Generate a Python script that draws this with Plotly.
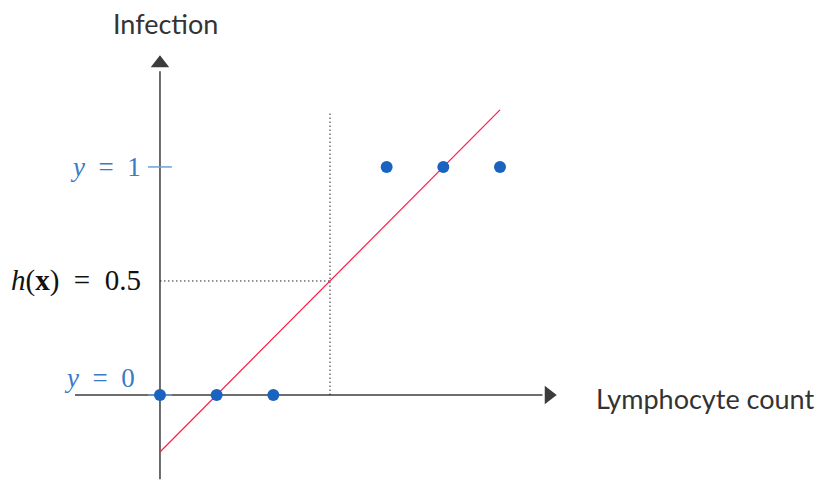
import plotly.graph_objects as go

# data
x_neg = [0, 1, 2]
y_neg = [0, 0, 0]
x_pos = [4, 5, 6]
y_pos = [1, 1, 1]
fit_x = [0, 6]
fit_y = [-0.25, 1.25]
threshold_x = 3
threshold_h = 0.5

axis_col = "#3c3c3c"
blue = "#1a63c0"
label_blue = "#3a7bc8"
math_font = "Liberation Serif"
sans_font = "Lato"
sp = "\u2002"  # wider space round "="

fig = go.Figure()

# axes with arrows
fig.add_trace(go.Scatter(x=[-1.5, 6.75], y=[0, 0], mode="lines",
                         line=dict(color=axis_col, width=1.5), hoverinfo="skip"))
fig.add_trace(go.Scatter(x=[0, 0], y=[-0.37, 1.42], mode="lines",
                         line=dict(color=axis_col, width=1.5), hoverinfo="skip"))
fig.add_trace(go.Scatter(x=[6.86], y=[0], mode="markers",
                         marker=dict(symbol="triangle-right", size=16, color=axis_col), hoverinfo="skip"))
fig.add_trace(go.Scatter(x=[0], y=[1.455], mode="markers",
                         marker=dict(symbol="triangle-up", size=16, color=axis_col), hoverinfo="skip"))

# y=1 / y=0 ticks
fig.add_trace(go.Scatter(x=[-0.21, 0.21], y=[1, 1], mode="lines",
                         line=dict(color="#6b9fd8", width=1.5), hoverinfo="skip"))
fig.add_trace(go.Scatter(x=[-0.21, 0.21], y=[0, 0], mode="lines",
                         line=dict(color="#6b9fd8", width=1.5), hoverinfo="skip"))

# dotted guides
fig.add_trace(go.Scatter(x=[threshold_x, threshold_x], y=[0, 1.24], mode="lines",
                         line=dict(color="#222222", width=1, dash="1.5px,2.5px"), hoverinfo="skip"))
fig.add_trace(go.Scatter(x=[0, threshold_x], y=[threshold_h, threshold_h], mode="lines",
                         line=dict(color="#222222", width=1, dash="1.5px,2.5px"), hoverinfo="skip"))

# fitted line
fig.add_trace(go.Scatter(x=fit_x, y=fit_y, mode="lines",
                         line=dict(color="#ff1a4a", width=1.2), hoverinfo="skip"))

# points
fig.add_trace(go.Scatter(x=x_neg + x_pos, y=y_neg + y_pos, mode="markers",
                         marker=dict(size=12, color=blue), hoverinfo="skip"))

fig.add_annotation(x=0.1, y=1.628, text="Infection", showarrow=False,
                   font=dict(family=sans_font, size=27, color="#333333"))
fig.add_annotation(x=7.66, y=-0.015, text="Lymphocyte count", showarrow=False, xanchor="left",
                   font=dict(family=sans_font, size=27, color="#333333"))
fig.add_annotation(x=-0.3, y=1, text=f"<i>y</i>{sp}={sp}1", showarrow=False, xanchor="right",
                   font=dict(family=math_font, size=27, color=label_blue))
fig.add_annotation(x=-0.4, y=0.075, text=f"<i>y</i>{sp}={sp}0", showarrow=False, xanchor="right",
                   font=dict(family=math_font, size=27, color=label_blue))
fig.add_annotation(x=-0.3, y=threshold_h, text=f"<i>h</i>(<b>x</b>){sp}={sp}0.5", showarrow=False,
                   xanchor="right", font=dict(family=math_font, size=29, color="#111111"))

# page body has an 8px margin, so the figure is drawn 8px in and 8px down
fig.update_layout(
    width=815, height=472, margin=dict(l=0, r=0, t=0, b=0),
    plot_bgcolor="white", paper_bgcolor="white", showlegend=False,
    xaxis=dict(range=[-2.682, 11.70], visible=False),
    yaxis=dict(range=[-0.3728, 1.697], visible=False),
)

fig.write_html("out.html")
